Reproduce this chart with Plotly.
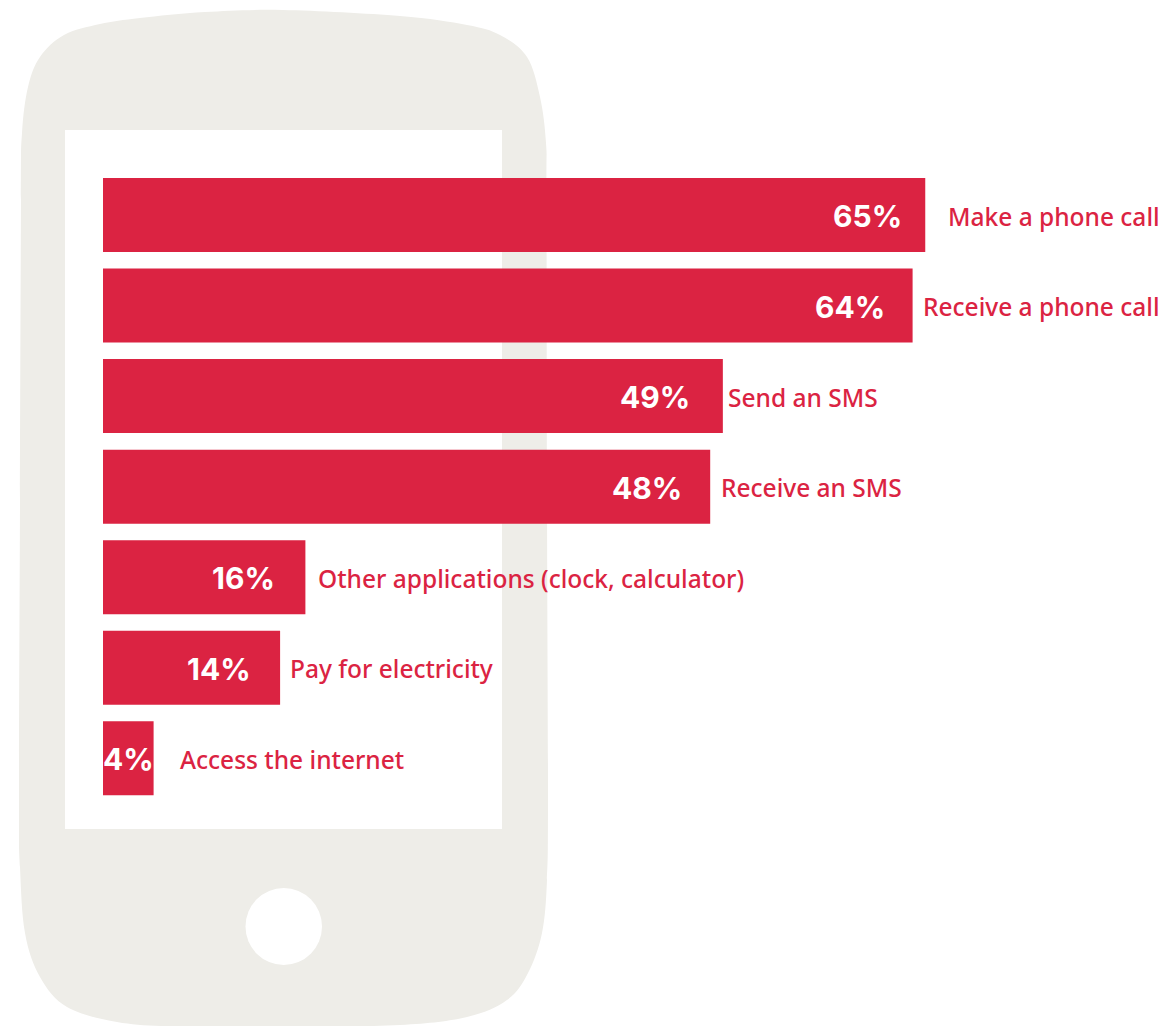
import plotly.graph_objects as go

# Survey results: share of respondents using each mobile phone function
activities = [
    "Make a phone call",
    "Receive a phone call",
    "Send an SMS",
    "Receive an SMS",
    "Other applications (clock, calculator)",
    "Pay for electricity",
    "Access the internet",
]
shares = [65, 64, 49, 48, 16, 14, 4]

WIDTH, HEIGHT = 1163, 1026
RED = "#DB2342"
PHONE = "#EEEDE8"

# Pixel geometry of the plot: the axes fill the whole page
ZERO_PX = 103
PX_PER_POINT = 12.65
FIRST_ROW_PX = 215
ROW_STEP_PX = 90.55
BAR_PX = 74

# Horizontal nudges (px) for the text, measured from each bar's end
name_shift = [20.5, 8.5, 3, 9, 10.5, 8, 24.5]
value_shift = [-21, -26, -31, -26, -28, -27, 2.5]

# Outline of the handset, clockwise from the top centre
outline = [
    (283, 10), (400, 16), (467, 25), (500, 35), (527, 57), (540, 97),
    (546, 143), (546.5, 200), (547, 500), (548, 800), (547, 880), (542, 933),
    (528, 973), (507, 1000), (467, 1017), (400, 1025), (283, 1027),
    (177, 1026.5), (117, 1022), (67, 1007), (40, 977), (25, 933), (20, 867),
    (19, 800), (20, 500), (21, 200), (22, 133), (28, 87), (40, 57), (64, 35),
    (100, 24), (140, 18), (205, 12),
]


def px(x):
    return x / WIDTH


def py(y):
    return 1 - y / HEIGHT


def smooth_closed_path(points):
    """Closed Catmull-Rom spline through the points, as an SVG path in paper units."""
    n = len(points)
    parts = [f"M {px(points[0][0]):.5f},{py(points[0][1]):.5f}"]
    for i in range(n):
        p0, p1, p2, p3 = (points[(i + k) % n] for k in (-1, 0, 1, 2))
        c1 = (p1[0] + (p2[0] - p0[0]) / 6, p1[1] + (p2[1] - p0[1]) / 6)
        c2 = (p2[0] - (p3[0] - p1[0]) / 6, p2[1] - (p3[1] - p1[1]) / 6)
        parts.append(
            f"C {px(c1[0]):.5f},{py(c1[1]):.5f} "
            f"{px(c2[0]):.5f},{py(c2[1]):.5f} "
            f"{px(p2[0]):.5f},{py(p2[1]):.5f}"
        )
    return " ".join(parts) + " Z"


shapes = [
    dict(type="path", path=smooth_closed_path(outline), xref="paper", yref="paper",
         fillcolor=PHONE, line_width=0, layer="below"),
    dict(type="rect", xref="paper", yref="paper", x0=px(65), x1=px(502),
         y0=py(829), y1=py(130), fillcolor="white", line_width=0, layer="below"),
    dict(type="circle", xref="paper", yref="paper", x0=px(245.5), x1=px(322),
         y0=py(965), y1=py(888), fillcolor="white", line_width=0, layer="below"),
]

fig = go.Figure(
    go.Bar(
        x=shares,
        y=activities,
        orientation="h",
        marker=dict(color=RED, line_width=0),
        hoverinfo="skip",
    )
)

annotations = []
for name, share, ns, vs in zip(activities, shares, name_shift, value_shift):
    annotations.append(dict(
        x=share, y=name, xref="x", yref="y", text=name, showarrow=False,
        xanchor="left", xshift=ns, yshift=-1,
        font=dict(family="Noto Sans", size=24.5, color=RED, weight=500),
    ))
    annotations.append(dict(
        x=share, y=name, xref="x", yref="y", text=f"{share}%", showarrow=False,
        xanchor="right", xshift=vs, yshift=-1,
        font=dict(family="Inter", size=30, color="white", weight=700),
    ))

fig.update_layout(
    width=WIDTH,
    height=HEIGHT,
    margin=dict(l=0, r=0, t=0, b=0),
    paper_bgcolor="white",
    plot_bgcolor="rgba(0,0,0,0)",
    showlegend=False,
    bargap=1 - BAR_PX / ROW_STEP_PX,
    shapes=shapes,
    annotations=annotations,
    xaxis=dict(
        range=[-ZERO_PX / PX_PER_POINT, (WIDTH - ZERO_PX) / PX_PER_POINT],
        visible=False,
        fixedrange=True,
    ),
    yaxis=dict(
        range=[(HEIGHT - FIRST_ROW_PX) / ROW_STEP_PX, -FIRST_ROW_PX / ROW_STEP_PX],
        visible=False,
        fixedrange=True,
        type="category",
        categoryorder="array",
        categoryarray=activities,
    ),
)

fig.write_html("out.html", config=dict(displayModeBar=False))
